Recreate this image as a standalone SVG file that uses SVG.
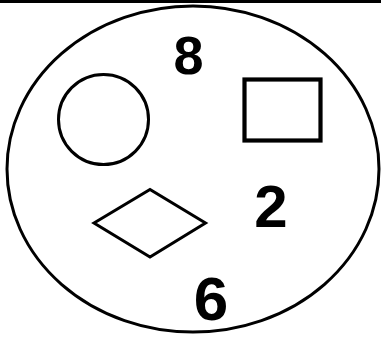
<svg xmlns="http://www.w3.org/2000/svg" width="381" height="341" viewBox="0 0 381 341">
<style>
.s{fill:none;stroke:#000}
.t{font-family:"Liberation Sans",Arial,sans-serif;font-weight:bold;fill:#000;text-anchor:middle}
</style>
<rect x="0" y="0" width="381" height="341" fill="#fff"/>
<rect x="0" y="0" width="381" height="3" fill="#000"/>
<g id="ellipse"><ellipse class="s" cx="193" cy="169" rx="186" ry="163" stroke-width="3"/></g>
<g id="circle"><circle class="s" cx="103.5" cy="119.5" r="45" stroke-width="3"/></g>
<g id="rect"><rect class="s" x="244.5" y="79.5" width="76" height="61" stroke-width="4.2"/></g>
<g id="diamond"><polygon class="s" points="94,223 150,189.5 205.5,223 150,257" stroke-width="3"/></g>
<g id="n8"><text class="t" x="188.5" y="74.3" font-size="54">8</text></g>
<g id="n2"><text class="t" x="271" y="226.7" font-size="60">2</text></g>
<g id="n6"><text class="t" x="211" y="320" font-size="62">6</text></g>
<g id="connectors"></g>
</svg>
